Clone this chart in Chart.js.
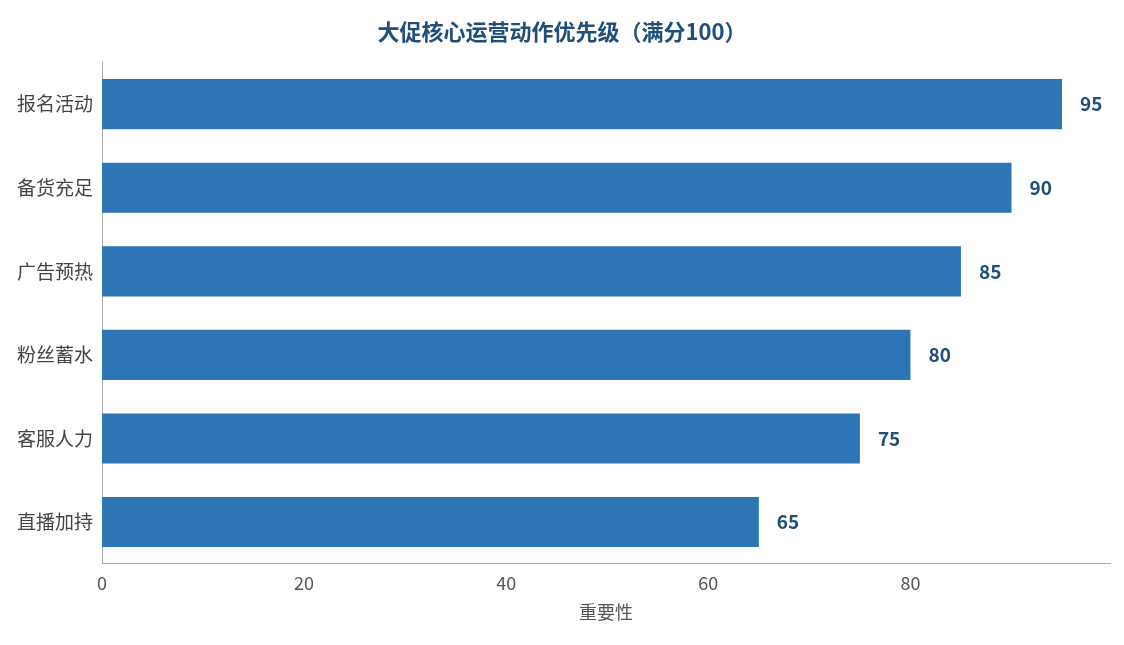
<!DOCTYPE html>
<html><head><meta charset="utf-8">
<script src="https://cdn.jsdelivr.net/npm/chart.js@4/dist/chart.umd.min.js"></script>
<style>html,body{margin:0;padding:0;background:#fff}#w{width:1124px;height:645px}</style>
</head><body><div id="w"><canvas id="c"></canvas></div>
<script>
const categories = ["报名活动","备货充足","广告预热","粉丝蓄水","客服人力","直播加持"];
const values = [95,90,85,80,75,65];
const xTicks = [0,20,40,60,80];
const FONT = "'Noto Sans CJK SC','Noto Sans',sans-serif";
const labelPlugin = {
  id:'lbl',
  afterDatasetsDraw(chart){
    const ctx = chart.ctx, meta = chart.getDatasetMeta(0);
    ctx.save();
    ctx.font = "bold 19px " + FONT;
    ctx.fillStyle = "#1f4e79";
    ctx.textBaseline = "middle";
    meta.data.forEach((b,i)=>{ ctx.fillText(String(values[i]), b.x + 18, b.y); });
    ctx.restore();
  }
};
new Chart(document.getElementById('c'),{
  type:'bar',
  data:{labels:categories,datasets:[{data:values,backgroundColor:'#2e75b6',categoryPercentage:1,barPercentage:0.6}]},
  options:{
    indexAxis:'y',responsive:true,maintainAspectRatio:false,animation:false,
    layout:{padding:{left:14,right:14,top:8,bottom:18}},
    plugins:{legend:{display:false},tooltip:{enabled:false},
      title:{display:true,text:'大促核心运营动作优先级（满分100）',color:'#1f4e79',font:{family:FONT,size:22,weight:'bold'},padding:{top:10,bottom:18}}},
    scales:{
      x:{min:0,max:99.75,afterBuildTicks(s){s.ticks=xTicks.map(v=>({value:v}));},
        grid:{display:false,drawTicks:true,tickLength:6,color:'#aaa'},border:{color:'#aaa'},
        ticks:{color:'#555',font:{family:FONT,size:18}},
        title:{display:true,text:'重要性',color:'#555',font:{family:FONT,size:18}}},
      y:{grid:{display:false,drawTicks:true,tickLength:6,color:'#aaa'},border:{color:'#aaa'},
        ticks:{color:'#444',font:{family:FONT,size:19}}}
    }
  },
  plugins:[labelPlugin]
});
</script></body></html>
